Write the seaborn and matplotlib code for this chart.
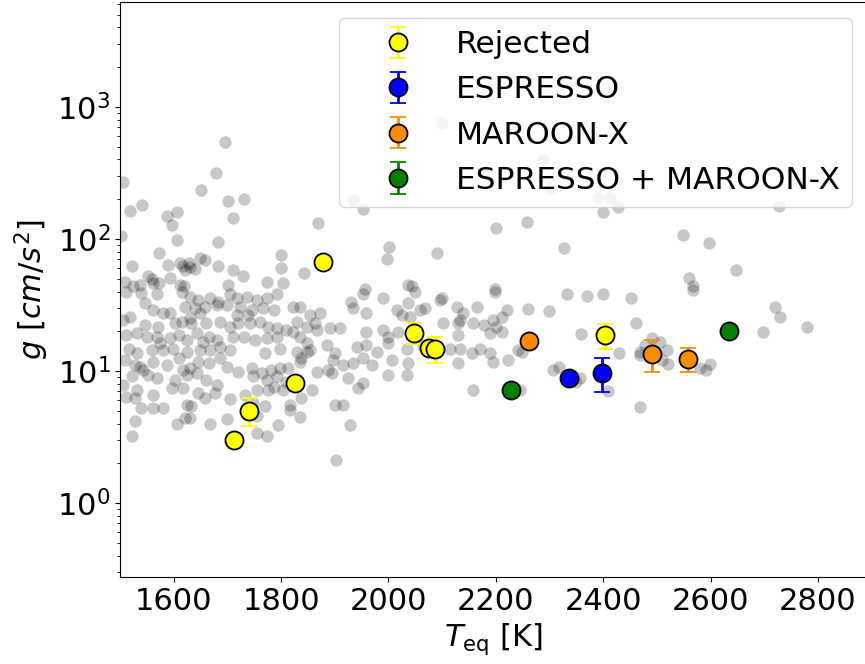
import matplotlib
matplotlib.use("Agg")
import matplotlib.pyplot as plt
import seaborn as sns
import pandas as pd

# ---------------- background planets (grey) ----------------
bg_teq = [
    1696, 1678, 1505, 1651, 1701, 1730, 1541, 1518, 1606, 1588, 1596, 1711, 1868, 1502, 1606, 1682,
    1573, 1800, 1522, 1590, 1612, 1617, 1628, 1630, 1621, 1640, 1649, 1658, 1682, 1711, 1729, 1800,
    1842, 1593, 1553, 1559, 1509, 1524, 1537, 1561, 1573, 1612, 1619, 1701, 1773, 1803,
    1934, 1952, 2200, 2001, 1998, 2090, 2037, 2043, 1956, 2198, 2100,
    2288, 2301, 2391, 2412, 2428, 2399, 2728, 2258, 2327, 2548, 2597, 2647, 2560, 2567,
    1512, 1540, 1568, 1615, 1630, 1668, 1705, 1717, 1736, 1755, 1792, 1773, 1683, 1646,
    1547, 1562, 1581, 1593, 1621, 1640, 1658, 1680, 1699, 1723, 1745, 1767, 1786, 1823, 1835, 1854,
    1519, 1630, 1649, 1717, 1739,
    1506, 1547, 1571, 1602, 1615, 1633, 1661, 1686, 1705, 1720, 1742, 1761, 1776, 1792, 1810, 1829,
    1848, 1863, 1866, 1823,
    1512, 1531, 1550, 1568, 1593, 1609, 1624, 1643, 1665, 1680, 1711, 1730, 1751, 1773, 1792, 1835,
    1848, 1655, 1575,
    1516, 1531, 1559, 1581, 1599, 1624, 1649, 1668, 1686, 1705, 1770, 1798, 1829, 1848, 1838, 1854,
    1509, 1528, 1543, 1562, 1587, 1609, 1630, 1646, 1665, 1686, 1699, 1720, 1745, 1764, 1782, 1798,
    1813, 1835, 1866, 1537, 1618,
    1522, 1568, 1602, 1624, 1661, 1680, 1748, 1773, 1792, 1810, 1553, 1643,
    1506, 1531, 1596, 1618, 1646, 1658, 1677, 1705, 1733, 1755, 1776, 1786, 1804, 1838, 1857, 1512,
    1528, 1540, 1562, 1562, 1581, 1624, 1633, 1770, 1817, 1748,
    1621, 1630, 1606, 1668, 1699, 1755, 1817, 1835, 1795, 1528,
    1522, 1755, 1773,
    1931, 1934, 1953, 1990, 2037, 2049, 2059, 2068, 2096, 2099, 2127, 2139, 2164, 2198, 2220, 1872,
    1959, 2015, 2025, 2040, 2130, 2133, 2158, 2195, 2211, 2201, 2189, 2211, 1891, 1910, 1959, 1990,
    1999, 2018, 2102, 2130, 2177, 1885, 1941, 1959, 1978, 1999, 2034, 2114, 2133, 2155, 2170, 2189,
    2195, 2223, 2242, 1900, 1897, 1916, 1934, 1953, 1969, 2006, 2037, 2065, 2130, 1894, 1888, 1925,
    1944, 1953, 1999, 2034, 2158, 1900, 1916, 1928, 1903,
    2332, 2369, 2399, 2451, 2568, 2260, 2299, 2720, 2730, 2779, 2697, 2461, 2358, 2248, 2430, 2468,
    2478, 2490, 2506, 2518, 2521, 2509, 2468, 2307, 2318, 2357, 2349, 2408, 2580, 2591, 2599, 2468,
    2245,
]
bg_g = [
    541, 315, 272, 235, 195, 201, 180, 164, 161, 149, 128, 145, 131, 106, 98, 95,
    78, 76, 62, 64, 66, 62, 66, 61, 58, 59, 72, 69, 62, 58, 52, 60,
    55, 51, 52, 50, 47, 44, 45, 46, 46, 45, 44, 45, 47, 46,
    197, 168, 122, 87, 71, 78, 45, 44, 42, 42, 752,
    396, 242, 203, 203, 176, 159, 178, 134, 85, 107, 93, 58, 51, 44,
    40, 39, 38, 40, 36.6, 35.5, 38, 35.5, 36.6, 34.5, 38, 35.5, 33.5, 34.5,
    32.6, 29, 27.3, 27.3, 30.7, 29.9, 30.7, 31.6, 31.6, 30.7, 29, 29.9, 29, 30.7, 30.7, 26.6,
    25.8, 25.1, 27.3, 26.6, 26.6,
    24.4, 22.3, 21.7, 23, 23.7, 23, 23, 23.7, 21.7, 23, 23, 23.7, 21.7, 21.1, 20.5, 23.7,
    21.7, 23, 20.5, 19.9,
    18.7, 19.3, 18.2, 18.2, 17.7, 18.7, 17.2, 19.3, 18.2, 17.2, 18.2, 18.2, 17.2, 17.7, 18.2, 18.2,
    16.2, 16.7, 16.2,
    14.8, 13.6, 14.4, 14.4, 14.8, 14.0, 14.4, 14.4, 15.3, 14.4, 13.6, 14.8, 14.0, 14.0, 12.5, 14.4,
    12.2, 11.1, 10.2, 11.7, 11.1, 12.5, 10.5, 11.7, 11.4, 12.5, 10.8, 9.9, 10.5, 9.6, 10.2, 10.5,
    10.5, 11.7, 9.9, 10.8, 10.2,
    9.1, 8.8, 8.6, 9.3, 8.6, 7.8, 9.1, 8.6, 9.1, 8.3, 9.3, 9.6,
    7.8, 7.2, 7.4, 7.4, 6.8, 6.2, 6.8, 6.1, 6.6, 7.2, 7.2, 7.6, 7.2, 6.2, 7.2, 6.4,
    6.2, 5.2, 6.6, 5.2, 5.2, 5.5, 5.4, 5.4, 5.5, 5.7,
    4.4, 4.4, 4.0, 4.0, 4.3, 4.6, 5.1, 4.5, 3.9, 4.2,
    3.2, 3.4, 3.2,
    33.6, 29.9, 38, 35.5, 32.6, 40, 29, 29.9, 34.5, 35.5, 30.7, 27.3, 30.7, 40, 29, 27.3,
    27.3, 29, 26.6, 25.8, 23, 24.4, 23, 24.4, 25.8, 21.7, 19.3, 19.9, 21.1, 21.1, 19.9, 20.5,
    18.2, 19.9, 23, 18.7, 22.3, 15.8, 15.3, 15.8, 14.0, 16.2, 14.8, 14.8, 14.8, 13.6, 14.8, 13.6,
    11.7, 12.2, 14.4, 13.6, 12.2, 11.1, 11.4, 12.5, 11.1, 12.2, 11.4, 15.8, 11.4, 9.6, 10.2, 8.8,
    7.4, 8.1, 9.3, 9.3, 7.2, 5.5, 5.5, 3.9, 2.1,
    38, 37, 38.5, 36, 41, 29.3, 28.6, 30.7, 25.8, 21.7, 19.9, 23, 19, 14.0, 13.6, 14.0,
    15.6, 17.7, 16.7, 14.4, 11.3, 12.2, 13.2, 10.2, 10.8, 8.9, 8.2, 7.0, 10.5, 10.2, 11.3, 5.3,
    7.2,
]

# ---------------- highlighted targets ----------------
rej_teq = [1878, 1712, 1740, 1826, 2047, 2075, 2087, 2403]
rej_g = [67, 3.0, 5.0, 8.1, 19.5, 15.0, 14.8, 18.6]
rej_err = [3.0, 0.3, 1.2, 0.5, 3.5, 1.0, 3.4, 3.9]

esp_teq = [2337, 2397]
esp_g = [8.9, 9.7]
esp_err = [0.5, 2.8]

mx_teq = [2262, 2490, 2557]
mx_g = [17.0, 13.5, 12.4]
mx_err = [1.5, 3.6, 2.5]

both_teq = [2228, 2634]
both_g = [7.2, 20.0]
both_err = [0.3, 0.8]

groups = [
    ("Rejected", rej_teq, rej_g, rej_err, "yellow"),
    ("ESPRESSO", esp_teq, esp_g, esp_err, "blue"),
    ("MAROON-X", mx_teq, mx_g, mx_err, "darkorange"),
    ("ESPRESSO + MAROON-X", both_teq, both_g, both_err, "green"),
]

plt.rcParams["font.family"] = ["DejaVu Sans"]
plt.rcParams["font.size"] = 22

fig = plt.figure(figsize=(8.65, 6.64), dpi=100)
ax = fig.add_axes([120 / 865, 87 / 664, 748 / 865, 575 / 664])

bg = pd.DataFrame({"Teq": bg_teq, "g": bg_g})
sns.scatterplot(data=bg, x="Teq", y="g", ax=ax, color="k", alpha=0.22, s=80,
                linewidth=0, legend=False, zorder=1)

for label, tx, gy, err, col in groups:
    ax.errorbar(tx, gy, yerr=err, fmt="o", color=col, markerfacecolor=col,
                markeredgecolor="k", markeredgewidth=1.3, markersize=13,
                ecolor=col, elinewidth=2, capsize=6, capthick=2, label=label, zorder=3)

ax.set_yscale("log")
ax.set_xlim(1500, 2893)
ax.set_ylim(0.275, 6240)
ax.set_xticks([1600, 1800, 2000, 2200, 2400, 2600, 2800])
ax.tick_params(axis="both", labelsize=22)
ax.set_xlabel(r"$T_{\rm eq}$ [K]", fontsize=22)
ax.set_ylabel(r"$g\ [cm/s^2]$", fontsize=22)

ax.legend(loc="upper right", fontsize=22.5, framealpha=0.8, handlelength=3.0,
          handletextpad=0.35, labelspacing=0.52)

fig.savefig("out.png", dpi=100)
